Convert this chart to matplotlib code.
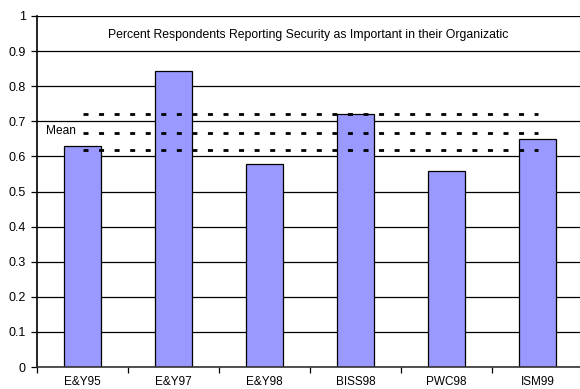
#!/usr/bin/env python3
"""
Percent of respondents reporting security as important, by survey.
"""

import numpy as np
import matplotlib
matplotlib.use("Agg")
import matplotlib.pyplot as plt
from matplotlib.ticker import FixedLocator, NullFormatter

surveys = ['E&Y95', 'E&Y97', 'E&Y98', 'BISS98', 'PWC98', 'ISM99']
percent_important = [0.63, 0.842, 0.579, 0.72, 0.558, 0.649]
# upper bound, mean, lower bound
mean_lines = [0.72, 0.668, 0.617]

title_text = ("Percent Respondents Reporting Security as Important "
              "in their Organizatic")


def main() -> None:
    plt.rcParams['font.family'] = ['Liberation Sans', 'DejaVu Sans']

    fig = plt.figure(figsize=(5.8, 3.89), dpi=100)
    ax = fig.add_axes([37 / 580, 22 / 389, 546 / 580, 351 / 389])

    x = np.arange(len(surveys))
    ax.set_axisbelow(True)
    ax.yaxis.grid(True, color='black', linewidth=0.9)
    ax.bar(x, percent_important, width=0.40, color='#9999ff',
           edgecolor='black', linewidth=0.9, zorder=2)

    # mean and band lines, from first to last bar centre
    for level in mean_lines:
        ax.plot([x[0], x[-1]], [level, level], color='black',
                linewidth=2.0, linestyle=(0, (1.8, 3.8)),
                solid_capstyle='butt', dash_capstyle='butt', zorder=3)

    ax.set_xlim(-0.5, len(surveys) - 0.5)
    ax.set_ylim(0, 1)
    ax.set_yticks(np.arange(0, 1.01, 0.1))
    ax.set_yticklabels(['0'] + [f"{v:.1f}" for v in np.arange(0.1, 0.95, 0.1)]
                       + ['1'], fontsize=9)
    ax.tick_params(axis='y', direction='out', length=4, width=0.9, pad=4)

    ax.set_xticks(x)
    ax.set_xticklabels(surveys, fontsize=8.5)
    ax.tick_params(axis='x', which='major', length=0, pad=6.5)
    ax.xaxis.set_minor_locator(FixedLocator(np.arange(-0.5, len(surveys), 1.0)))
    ax.xaxis.set_minor_formatter(NullFormatter())
    ax.tick_params(axis='x', which='minor', direction='out', length=4,
                   width=0.9)

    for side in ['top', 'right']:
        ax.spines[side].set_visible(False)
    ax.spines['left'].set_linewidth(1.2)
    ax.spines['bottom'].set_linewidth(1.2)
    ax.spines['bottom'].set_color('#333333')

    ax.text(108 / 580, 1 - 35 / 389, title_text, transform=fig.transFigure,
            fontsize=8.8, ha='left', va='center')
    ax.text(46 / 580, 1 - 131 / 389, 'Mean', transform=fig.transFigure,
            fontsize=8.6, ha='left', va='center')

    fig.savefig('out.png', dpi=100)


if __name__ == '__main__':
    main()
